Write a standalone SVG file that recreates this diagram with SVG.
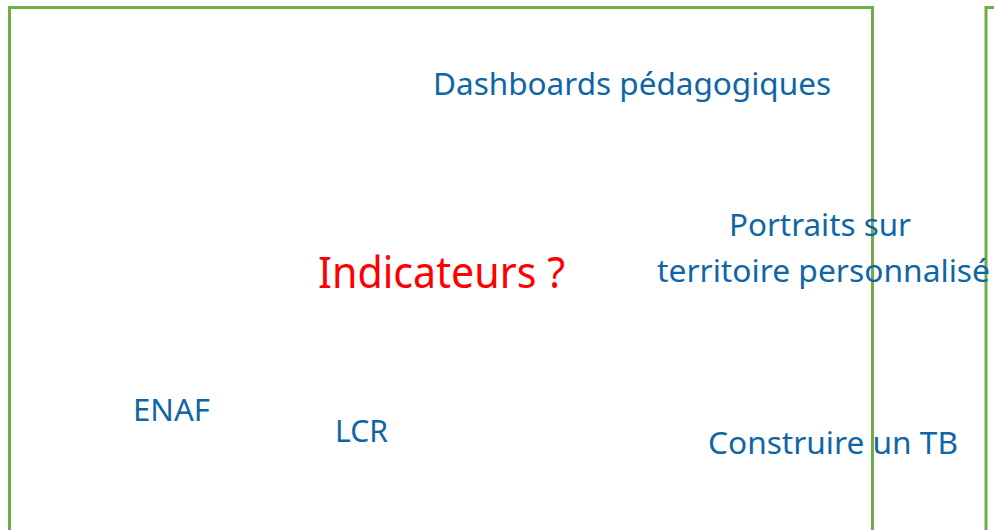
<svg xmlns="http://www.w3.org/2000/svg" width="994" height="530" viewBox="0 0 994 530">
<style>
.frame{fill:none;stroke:#70AD47;stroke-width:3}
.lbl{font-family:"Noto Sans","Open Sans",sans-serif;font-size:31px;fill:#0F66A6}
.q{font-family:"Noto Sans","Open Sans",sans-serif;font-size:43px;fill:#FF0000}
</style>
<rect width="994" height="530" fill="#FFFFFF"/>
<g id="frame-left"><rect class="frame" x="9.5" y="7.5" width="863" height="540"/></g>
<g id="frame-right"><rect class="frame" x="986" y="7.5" width="60" height="540"/></g>
<g id="connectors"></g>
<g id="node-dashboards"><text class="lbl" x="433" y="95" textLength="398" lengthAdjust="spacingAndGlyphs">Dashboards pédagogiques</text></g>
<g id="node-indicateurs"><text class="q" x="318" y="288" textLength="247" lengthAdjust="spacingAndGlyphs">Indicateurs ?</text></g>
<g id="node-portraits"><text class="lbl" x="729" y="236" textLength="182" lengthAdjust="spacingAndGlyphs">Portraits sur</text><text class="lbl" x="657" y="282" textLength="333" lengthAdjust="spacingAndGlyphs">territoire personnalisé</text></g>
<g id="node-enaf"><text class="lbl" x="133" y="421" textLength="77" lengthAdjust="spacingAndGlyphs">ENAF</text></g>
<g id="node-lcr"><text class="lbl" x="335" y="442" textLength="53" lengthAdjust="spacingAndGlyphs">LCR</text></g>
<g id="node-tb"><text class="lbl" x="708" y="454" textLength="250" lengthAdjust="spacingAndGlyphs">Construire un TB</text></g>
</svg>
